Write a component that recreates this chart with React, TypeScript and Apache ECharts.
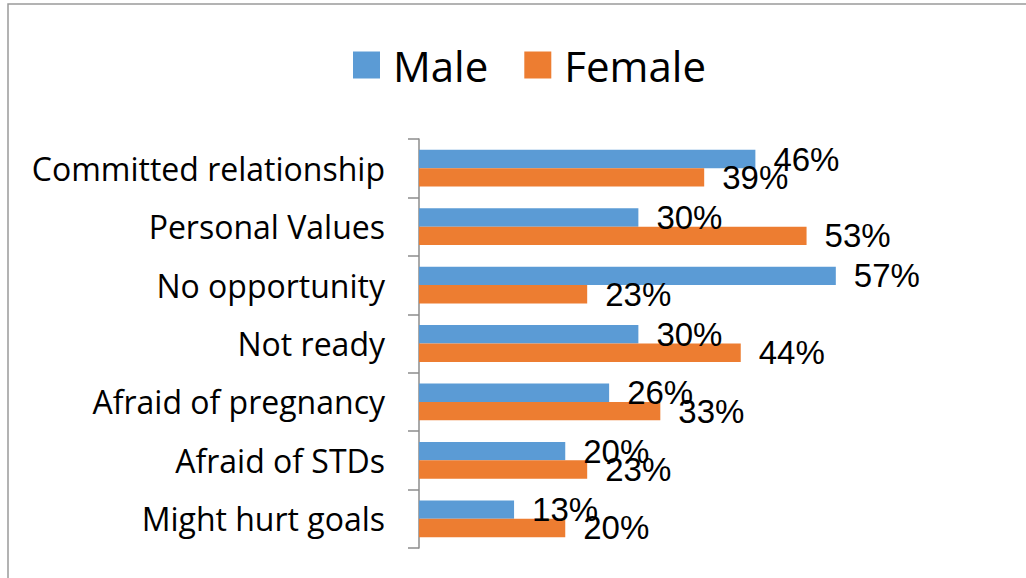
import React, { useEffect, useRef } from "react";
import * as echarts from "echarts";

const categories = [
  "Committed relationship",
  "Personal Values",
  "No opportunity",
  "Not ready",
  "Afraid of pregnancy",
  "Afraid of STDs",
  "Might hurt goals",
];
const maleValues = [46, 30, 57, 30, 26, 20, 13];
const femaleValues = [39, 53, 23, 44, 33, 23, 20];
const seriesNames = ["Male", "Female"];
const colors = ["#5B9BD5", "#ED7D31"];

export default function App() {
  const ref = useRef<HTMLDivElement>(null);
  useEffect(() => {
    if (!ref.current) return;
    const chart = echarts.init(ref.current, null, { renderer: "svg" });
    const labelStyle = {
      show: true,
      position: "right" as const,
      distance: 18,
      formatter: "{c}%",
      fontFamily: "Liberation Sans, Arial, sans-serif",
      fontSize: 33,
      color: "#000",
    };
    chart.setOption({
      animation: false,
      backgroundColor: "#fff",
      graphic: [
        {
          type: "polyline",
          shape: { points: [[8, 600], [8, 4], [1100, 4]] },
          style: { stroke: "#9a9a9a", lineWidth: 1.5, fill: "none" },
          silent: true,
        },
      ],
      legend: {
        data: seriesNames,
        top: 44,
        left: 353,
        padding: 0,
        itemWidth: 27,
        itemHeight: 27,
        itemGap: 36,
        icon: "rect",
        textStyle: {
          fontFamily: "Open Sans, Noto Sans, sans-serif",
          fontSize: 42,
          color: "#000",
          padding: [0, 0, 0, 8],
        },
      },
      grid: { left: 419, top: 139, width: 585, height: 409, containLabel: false },
      xAxis: {
        type: "value",
        min: 0,
        max: 80,
        show: false,
        splitLine: { show: false },
      },
      yAxis: {
        type: "category",
        data: categories,
        inverse: true,
        axisLine: { show: true, lineStyle: { color: "#8c8c8c", width: 1.5 } },
        axisTick: { show: true, length: 11, lineStyle: { color: "#8c8c8c", width: 1.5 } },
        axisLabel: {
          margin: 34,
          fontFamily: "Open Sans, Noto Sans, sans-serif",
          fontSize: 32,
          color: "#000",
        },
      },
      series: [
        {
          name: seriesNames[0],
          type: "bar",
          data: maleValues,
          itemStyle: { color: colors[0] },
          barGap: "0%",
          barCategoryGap: "37%",
          label: labelStyle,
        },
        {
          name: seriesNames[1],
          type: "bar",
          data: femaleValues,
          itemStyle: { color: colors[1] },
          barGap: "0%",
          barCategoryGap: "37%",
          label: labelStyle,
        },
      ],
    });
    return () => chart.dispose();
  }, []);
  return (
    <div
      ref={ref}
      style={{ position: "absolute", left: 0, top: 0, width: 1026, height: 578 }}
    />
  );
}
